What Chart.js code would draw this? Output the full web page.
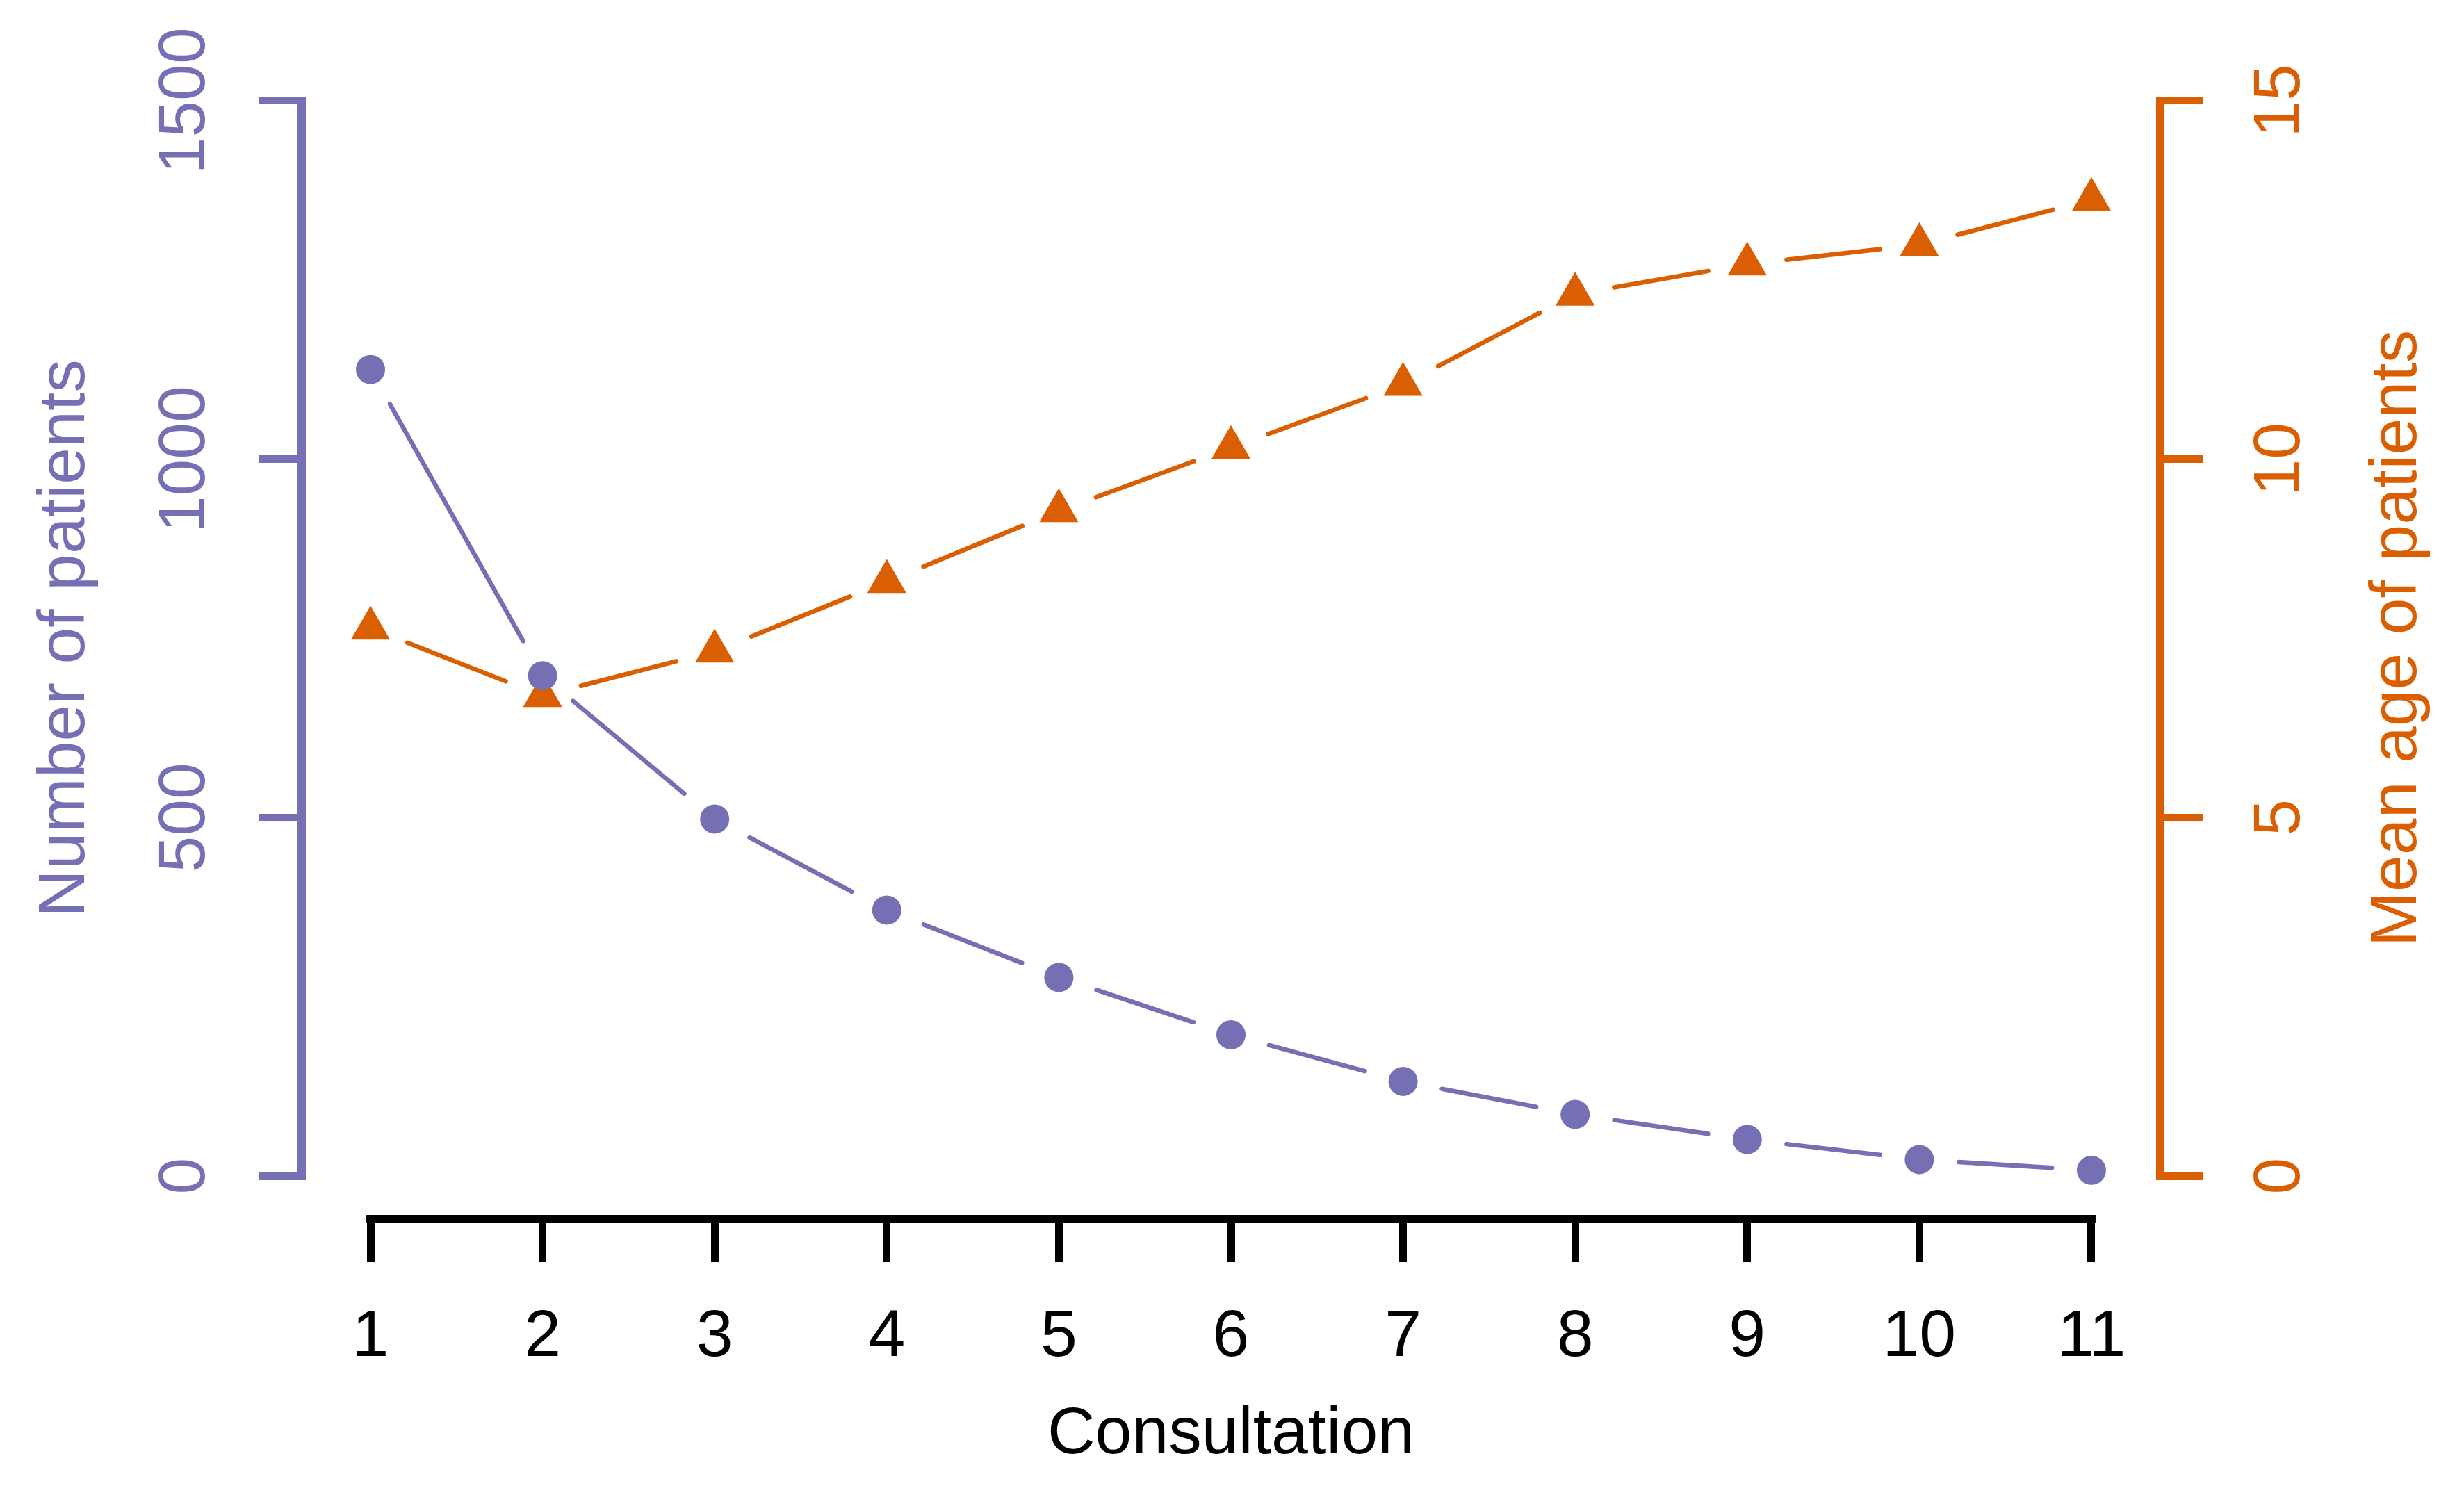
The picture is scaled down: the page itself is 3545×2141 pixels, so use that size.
<!DOCTYPE html>
<html>
<head>
<meta charset="utf-8">
<script src="https://cdn.jsdelivr.net/npm/chart.js@4.4.1/dist/chart.umd.min.js"></script>
<style>
  html, body { margin: 0; padding: 0; background: #fff; }
  canvas { display: block; }
</style>
</head>
<body>
<canvas id="chart" width="3545" height="2141"></canvas>
<script>
const consultations = [1, 2, 3, 4, 5, 6, 7, 8, 9, 10, 11];
const patientCounts = [1125, 698, 498, 371, 277, 197, 132, 86, 51, 23, 8];
const meanAges = [7.64, 6.70, 7.32, 8.29, 9.28, 10.16, 11.04, 12.30, 12.72, 12.99, 13.62];
const patientTicks = [0, 500, 1000, 1500];
const ageTicks = [0, 5, 10, 15];

const PURPLE = '#7570B3';
const ORANGE = '#D95F02';
const FONT = "'Liberation Sans', Arial, sans-serif";
const FONT_SIZE = 95;

Chart.defaults.font.family = FONT;

// leave a gap round every marker, like R's type = "b"
const GAP = 57;
function gapDash(ctx) {
  const len = Math.hypot(ctx.p1.x - ctx.p0.x, ctx.p1.y - ctx.p0.y);
  return [0, GAP, Math.max(len - 2 * GAP, 0), GAP + 1000];
}

// y axes: fixed width, and don't let the rotated labels push the chart area around
function fixYAxis(width) {
  return (scale) => {
    scale.width = width;
    scale.paddingTop = 0;
    scale.paddingBottom = 0;
  };
}

// axis lines only span first..last tick, and the y titles read bottom to top on both sides
const axisLines = {
  id: 'axisLines',
  afterDraw(chart) {
    const { ctx, scales, chartArea } = chart;
    const left = scales.y, right = scales.y1, bottom = scales.x;
    ctx.save();
    ctx.lineWidth = 12;
    ctx.lineCap = 'square';
    const line = (color, x1, y1, x2, y2) => {
      ctx.strokeStyle = color;
      ctx.beginPath();
      ctx.moveTo(x1, y1);
      ctx.lineTo(x2, y2);
      ctx.stroke();
    };
    line(PURPLE, left.right, left.getPixelForValue(patientTicks[0]),
         left.right, left.getPixelForValue(patientTicks[patientTicks.length - 1]));
    line(ORANGE, right.left, right.getPixelForValue(ageTicks[0]),
         right.left, right.getPixelForValue(ageTicks[ageTicks.length - 1]));
    line('#000', bottom.getPixelForValue(consultations[0]), bottom.top,
         bottom.getPixelForValue(consultations[consultations.length - 1]), bottom.top);

    const midY = (chartArea.top + chartArea.bottom) / 2;
    ctx.font = FONT_SIZE + 'px ' + FONT;
    ctx.textAlign = 'center';
    ctx.textBaseline = 'middle';
    const title = (text, color, x) => {
      ctx.save();
      ctx.translate(x, midY);
      ctx.rotate(-Math.PI / 2);
      ctx.fillStyle = color;
      ctx.fillText(text, 0, 0);
      ctx.restore();
    };
    title('Number of patients', PURPLE, left.left + 95);
    title('Mean age of patients', ORANGE, right.right - 95);
    ctx.restore();
  }
};

new Chart(document.getElementById('chart'), {
  type: 'line',
  data: {
    datasets: [
      {
        label: 'Number of patients',
        data: consultations.map((c, i) => ({ x: c, y: patientCounts[i] })),
        yAxisID: 'y',
        borderColor: PURPLE,
        backgroundColor: PURPLE,
        borderWidth: 6.5,
        borderCapStyle: 'round',
        pointStyle: 'circle',
        pointRadius: 21,
        pointBorderWidth: 0,
        segment: { borderDash: gapDash },
        clip: false
      },
      {
        label: 'Mean age of patients',
        data: consultations.map((c, i) => ({ x: c, y: meanAges[i] })),
        yAxisID: 'y1',
        borderColor: ORANGE,
        backgroundColor: ORANGE,
        borderWidth: 6.5,
        borderCapStyle: 'round',
        pointStyle: 'triangle',
        pointRadius: 32.5,
        pointBorderWidth: 0,
        segment: { borderDash: gapDash },
        clip: false
      }
    ]
  },
  options: {
    responsive: false,
    devicePixelRatio: 1,
    animation: false,
    layout: { padding: { top: 83, left: 0, right: 0, bottom: 0 } },
    plugins: {
      legend: { display: false },
      tooltip: { enabled: false }
    },
    scales: {
      x: {
        type: 'linear',
        position: 'bottom',
        min: 0.6,
        max: 11.4,
        afterBuildTicks: (scale) => { scale.ticks = consultations.map(v => ({ value: v })); },
        afterFit: (scale) => { scale.height = 387; },
        border: { display: false },
        grid: { drawOnChartArea: false, drawTicks: true, tickLength: 62, tickWidth: 11, tickColor: '#000' },
        ticks: {
          color: '#000',
          font: { size: FONT_SIZE },
          padding: 52,
          maxRotation: 0,
          autoSkip: false,
          callback: (v) => String(v)
        },
        title: {
          display: true,
          text: 'Consultation',
          color: '#000',
          font: { size: FONT_SIZE },
          padding: { top: 0, bottom: 19 }
        }
      },
      y: {
        type: 'linear',
        position: 'left',
        min: -60,
        max: 1560,
        afterBuildTicks: (scale) => { scale.ticks = patientTicks.map(v => ({ value: v })); },
        afterFit: fixYAxis(434),
        border: { display: false },
        grid: { drawOnChartArea: false, drawTicks: true, tickLength: 62, tickWidth: 11, tickColor: PURPLE },
        ticks: {
          color: PURPLE,
          font: { size: FONT_SIZE },
          minRotation: 90,
          maxRotation: 90,
          crossAlign: 'center',
          padding: -1,
          autoSkip: false,
          callback: (v) => String(v)
        }
      },
      y1: {
        type: 'linear',
        position: 'right',
        min: -0.6,
        max: 15.6,
        afterBuildTicks: (scale) => { scale.ticks = ageTicks.map(v => ({ value: v })); },
        afterFit: fixYAxis(437),
        border: { display: false },
        grid: { drawOnChartArea: false, drawTicks: true, tickLength: 62, tickWidth: 11, tickColor: ORANGE },
        ticks: {
          color: ORANGE,
          font: { size: FONT_SIZE },
          minRotation: 90,
          maxRotation: 90,
          crossAlign: 'center',
          padding: 59,
          autoSkip: false,
          callback: (v) => String(v)
        }
      }
    }
  },
  plugins: [axisLines]
});
</script>
</body>
</html>
